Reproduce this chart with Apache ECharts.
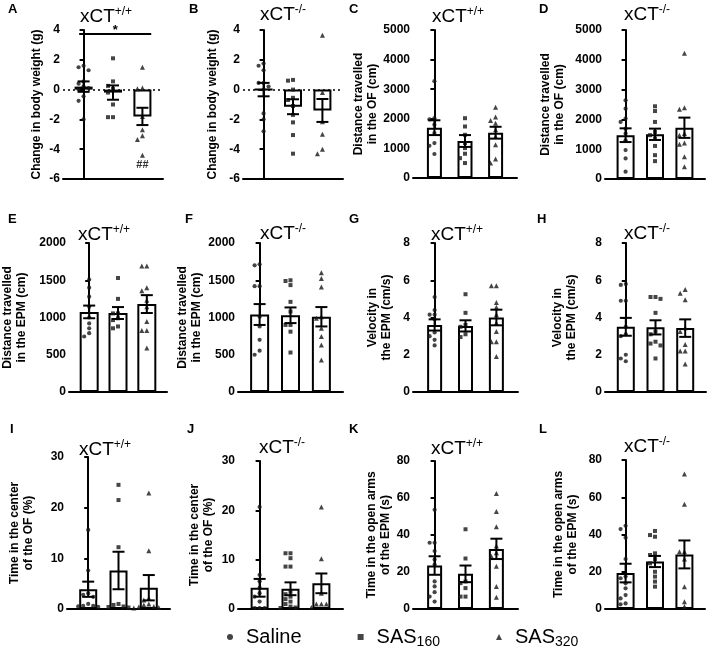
<!DOCTYPE html>
<html><head><meta charset="utf-8">
<script src="https://cdn.jsdelivr.net/npm/echarts@6/dist/echarts.min.js"></script>
<style>html,body{margin:0;padding:0;background:#fff}#c{width:708px;height:656px}</style>
</head><body><div id="c"></div>
<script>
const groups = ['Saline', 'SAS160', 'SAS320'];
const genoWT = '+/+', genoKO = '-/-';

// Panel A
const meanA = [0.2, -0.2, -1.8], semA = [0.35, 0.48, 0.58];
const ptsA = [[1.6, 1.5, 1.3, 0.55, 0.4, 0.2, 0.1, 0.0, -0.45, -0.75, -2.0],
              [2.1, 0.55, 0.25, 0.05, -0.2, -1.0, -1.85, -1.85],
              [1.5, 0.1, 0.05, -1.8, -2.7, -3.1, -3.35, -4.4]];
// Panel B
const meanB = [0.0, -1.15, -1.4], semB = [0.45, 0.5, 0.77];
const ptsB = [[1.75, 1.6, 1.3, 0.45, 0.45, 0.2, 0.0, -1.6, -2.0, -2.8],
              [0.6, 0.65, 0.0, -0.55, -0.7, -1.1, -1.7, -2.2, -3.05, -4.3],
              [3.65, -0.2, -2.15, -3.0, -4.0, -4.3]];
// Panel C
const meanC = [1700, 1250, 1530], semC = [250, 200, 200];
const ptsC = [[3270, 2020, 1980, 1800, 1520, 1180, 1090, 810],
              [2020, 1740, 1460, 1180, 1010, 820, 670, 505],
              [2390, 2060, 1940, 1850, 1630, 1400, 1120, 640, 505]];
// Panel D
const meanD = [1470, 1500, 1720], semD = [230, 190, 340];
const ptsD = [[2640, 2360, 2030, 1915, 1690, 1525, 1300, 970, 690, 245],
              [2440, 2280, 1915, 1580, 1470, 1360, 1110, 800, 600],
              [4220, 2390, 2340, 1525, 1470, 1210, 1170, 750, 410]];
// Panel E
const meanE = [1075, 1060, 1180], semE = [85, 80, 120];
const ptsE = [[1510, 1400, 1280, 1145, 1000, 920, 855, 790, 745],
              [1530, 1250, 1055, 1055, 990, 965, 880, 855],
              [1690, 1690, 1400, 1360, 1230, 1145, 945, 825, 825, 590]];
// Panel F
const meanF = [1040, 1030, 1010], semF = [140, 105, 130];
const ptsF = [[1700, 1715, 1420, 1420, 1010, 880, 700, 555, 500],
              [1490, 1500, 1435, 1210, 1080, 900, 900, 810, 530],
              [1600, 1525, 1410, 1010, 990, 855, 745, 630, 430]];
// Panel G
const meanG = [3.6, 3.55, 4.0], semG = [0.3, 0.3, 0.42];
const ptsG = [[5.1, 4.4, 4.15, 4.15, 3.9, 3.2, 3.0, 2.8, 2.5],
              [5.25, 4.25, 3.6, 3.5, 3.1, 2.95],
              [5.7, 5.7, 4.8, 4.55, 4.15, 3.7, 3.25, 2.7, 2.7, 1.9]];
// Panel H
const meanH = [3.5, 3.47, 3.43], semH = [0.48, 0.38, 0.47];
const ptsH = [[5.75, 5.8, 4.9, 4.9, 3.5, 3.1, 3.0, 2.0, 1.8, 1.65],
              [5.1, 5.1, 5.0, 4.25, 3.25, 3.1, 2.7, 2.6, 2.5, 1.8],
              [5.5, 5.3, 4.95, 3.45, 3.25, 2.55, 2.2, 2.2, 1.5]];
// Panel I
const meanI = [3.9, 7.6, 4.2], semI = [1.5, 3.7, 2.5];
const ptsI = [[15.6, 7.6, 3.1, 2.8, 2.4, 1.0, 0.6, 0.6, 0.5, 0.4],
              [24.5, 21.5, 12.2, 1.0, 0.8, 0.5, 0.4, 0.3],
              [22.9, 11.5, 2.1, 1.8, 1.0, 0.8, 0.5, 0.4, 0.3, 0.2]];
// Panel J
const meanJ = [4.3, 4.1, 5.2], semJ = [1.8, 1.3, 2.0];
const ptsJ = [[20.7, 6.9, 5.6, 4.3, 3.2, 2.5, 1.5, 0.2, 0.2, 0.2],
              [11.3, 11.3, 10.3, 8.6, 8.6, 3.5, 3.0, 2.5, 2.0, 1.5, 1.0, 0.5, 0.3, 0.2],
              [20.7, 10.2, 3.2, 1.0, 1.0, 1.0, 0.3]];
// Panel K
const meanK = [23.5, 19, 32.5], semK = [5, 4.5, 5.5];
const ptsK = [[53.6, 35.8, 35.8, 31.3, 26.7, 24, 14.9, 12.2, 9.1, 6.7, 4],
              [43.1, 27.3, 14.9, 14, 11.3, 6.7, 6.7],
              [62.5, 52.7, 44.4, 34, 30.4, 28.5, 23.1, 12.2, 6.4]];
// Panel L
const meanL = [19.3, 25.5, 29.3], semL = [5, 3, 7.5];
const ptsL = [[44.7, 42.9, 38.3, 26.8, 17.4, 16.5, 13.8, 11.1, 7.5, 5.7, 3, 2.5],
              [41.9, 39.7, 38.8, 29.9, 29, 26.8, 24.5, 20, 17.4, 14.7, 12],
              [72.5, 56.2, 30.8, 30.8, 26.8, 12, 3.9, 1.3]];

// Axis scales and names
const yNames = {
  A: 'Change in body weight (g)', B: 'Change in body weight (g)',
  C: 'Distance travelled\nin the OF (cm)', D: 'Distance travelled\nin the OF (cm)',
  E: 'Distance travelled\nin the EPM (cm)', F: 'Distance travelled\nin the EPM (cm)',
  G: 'Velocity in\nthe EPM (cm/s)', H: 'Velocity in\nthe EPM (cm/s)',
  I: 'Time in the center\nof the OF (%)', J: 'Time in the center\nof the OF (%)',
  K: 'Time in the open arms\nof the EPM (s)', L: 'Time in the open arms\nof the EPM (s)'
};
const yScales = {
  A: [-6, 4, 2], B: [-6, 4, 2], C: [0, 5000, 1000], D: [0, 5000, 1000],
  E: [0, 2000, 500], F: [0, 2000, 500], G: [0, 8, 2], H: [0, 8, 2],
  I: [0, 30, 10], J: [0, 30, 10], K: [0, 80, 20], L: [0, 80, 20]
};
// Significance annotations in panel A
const sigBarA = { from: -0.15, to: 2.3, y: 3.73, text: '*' };
const sigHashA = { x: 2, y: -5.05, text: '##' };

const data = {
  A: [meanA, semA, ptsA, genoWT], B: [meanB, semB, ptsB, genoKO],
  C: [meanC, semC, ptsC, genoWT], D: [meanD, semD, ptsD, genoKO],
  E: [meanE, semE, ptsE, genoWT], F: [meanF, semF, ptsF, genoKO],
  G: [meanG, semG, ptsG, genoWT], H: [meanH, semH, ptsH, genoKO],
  I: [meanI, semI, ptsI, genoWT], J: [meanJ, semJ, ptsJ, genoKO],
  K: [meanK, semK, ptsK, genoWT], L: [meanL, semL, ptsL, genoKO]
};

// Layout (pixels)
const layout = {
  A: { l: 63,  t: 30,  w: 100, h: 149, bw: 18, gap: 19, letter: [3, -2],   title: [101, 1] },
  B: { l: 243, t: 30,  w: 100, h: 149, bw: 18, gap: 23, letter: [184, -2], title: [278, -1] },
  C: { l: 413, t: 30,  w: 104, h: 148, bw: 15, gap: 26, letter: [344, -2], title: [453, 1] },
  D: { l: 605, t: 30,  w: 100, h: 149, bw: 18, gap: 38, letter: [534, -2], title: [642, -1] },
  E: { l: 67,  t: 243, w: 100, h: 149, bw: 19, gap: 40, letter: [3, 208],  title: [99, 219] },
  F: { l: 238, t: 243, w: 105, h: 149, bw: 19, gap: 34, letter: [180, 208], title: [278, 218] },
  G: { l: 413, t: 243, w: 105, h: 149, bw: 15, gap: 19, letter: [344, 208], title: [452, 219] },
  H: { l: 605, t: 243, w: 101, h: 149, bw: 18, gap: 26, letter: [532, 208], title: [642, 218] },
  I: { l: 67,  t: 457, w: 103, h: 152, bw: 18, gap: 31, letter: [5, 418],  title: [100, 434] },
  J: { l: 238, t: 461, w: 105, h: 148, bw: 18, gap: 22, letter: [182, 418], title: [277, 432] },
  K: { l: 413, t: 461, w: 105, h: 148, bw: 15, gap: 17, letter: [344, 418], title: [452, 433] },
  L: { l: 605, t: 460, w: 100, h: 149, bw: 18, gap: 25, letter: [534, 418], title: [642, 431] }
};

const FONT = 'Liberation Sans, Arial, sans-serif';
const INK = '#000';
const DOT = '#161616';
const symbols = ['circle', 'rect', 'triangle'];
const symSizes = [4.2, 4, 5];

// simple beeswarm: spread points that would overlap vertically
function swarm(vals, ppu) {
  const order = vals.map((v, i) => i).sort((a, b) => vals[b] - vals[a]);
  const placed = [], out = new Array(vals.length).fill(0);
  const cands = [0, -5, 5, -10, 10, -15, 15, -20, 20];
  order.forEach(i => {
    const y = vals[i] * ppu;
    let dx = 0;
    for (const c of cands) {
      if (placed.every(p => Math.hypot(p[0] - c, p[1] - y) >= 4.6)) { dx = c; break; }
    }
    placed.push([dx, y]);
    out[i] = dx;
  });
  return out;
}

const grids = [], xAxes = [], yAxes = [], series = [], titles = [];
Object.keys(layout).forEach((k, gi) => {
  const L = layout[k];
  const [mean, sem, pts, geno] = data[k];
  const [ymin, ymax, ystep] = yScales[k];
  grids.push({ left: L.l, top: L.t, width: L.w, height: L.h, containLabel: false });
  xAxes.push({
    gridIndex: gi, type: 'value', min: -0.7, max: 2.7,
    axisLine: { show: true, onZero: false, lineStyle: { color: INK, width: 2 } },
    axisTick: { show: false }, axisLabel: { show: false }, splitLine: { show: false }
  });
  yAxes.push({
    gridIndex: gi, type: 'value', min: ymin, max: ymax, interval: ystep,
    name: yNames[k], nameLocation: 'middle', nameGap: L.gap,
    nameTextStyle: { fontFamily: FONT, fontWeight: 'bold', fontSize: 12, color: INK, lineHeight: 14 },
    axisLine: { show: true, lineStyle: { color: INK, width: 2 } },
    axisTick: { show: true, length: 4, lineStyle: { color: INK, width: 2 } },
    axisLabel: { fontFamily: FONT, fontWeight: 'bold', fontSize: 12, color: INK, margin: 3,
                 formatter: v => String(v) },
    splitLine: { show: false }
  });
  const bar = {
    type: 'bar', xAxisIndex: gi, yAxisIndex: gi, barWidth: L.bw, z: 2,
    data: mean.map((m, i) => [i, m]),
    itemStyle: { color: '#fff', borderColor: INK, borderWidth: 2 },
    silent: true
  };
  if (ymin < 0) {
    const mlData = [{ yAxis: 0, lineStyle: { type: [2, 3], color: INK, width: 1.5 } }];
    if (k === 'A') {
      mlData.push([
        { coord: [sigBarA.from, sigBarA.y], lineStyle: { type: 'solid', color: INK, width: 2 },
          label: { show: true, formatter: sigBarA.text, position: 'insideMiddleTop', distance: -3,
                   fontFamily: FONT, fontWeight: 'bold', fontSize: 13, color: INK } },
        { coord: [sigBarA.to, sigBarA.y] }
      ]);
      bar.markPoint = {
        symbol: 'circle', symbolSize: 0, silent: true,
        data: [{ coord: [sigHashA.x, sigHashA.y] }],
        label: { show: true, formatter: sigHashA.text, position: 'inside', fontFamily: FONT,
                 fontSize: 11, fontWeight: 'bold', color: '#333' }
      };
    }
    bar.markLine = { silent: true, symbol: ['none', 'none'], label: { show: false }, data: mlData, z: 3 };
  }
  series.push(bar);
  const ppu = L.h / (ymax - ymin);
  pts.forEach((vals, g) => {
    const off = swarm(vals, ppu);
    series.push({
      type: 'scatter', name: groups[g], xAxisIndex: gi, yAxisIndex: gi, z: 3,
      symbol: symbols[g], symbolSize: symSizes[g],
      itemStyle: { color: DOT },
      data: vals.map((v, i) => ({ value: [g, v], symbolOffset: [off[i], 0] })),
      silent: true
    });
  });
  series.push({
    type: 'custom', xAxisIndex: gi, yAxisIndex: gi, z: 4, silent: true,
    data: mean.map((m, i) => [i, m, sem[i]]),
    renderItem: (params, api) => {
      const x = api.value(0), m = api.value(1), s = api.value(2);
      const a = api.coord([x, m + s]), b = api.coord([x, m - s]);
      const hw = 6, st = { stroke: INK, lineWidth: 2 };
      return { type: 'group', children: [
        { type: 'line', shape: { x1: a[0], y1: a[1], x2: b[0], y2: b[1] }, style: st },
        { type: 'line', shape: { x1: a[0] - hw, y1: a[1], x2: a[0] + hw, y2: a[1] }, style: st },
        { type: 'line', shape: { x1: b[0] - hw, y1: b[1], x2: b[0] + hw, y2: b[1] }, style: st }
      ]};
    }
  });
  titles.push({
    text: k, left: L.letter[0], top: L.letter[1],
    textStyle: { fontFamily: FONT, fontWeight: 'bold', fontSize: 13, color: INK }
  });
  titles.push({
    text: 'xCT{s|' + geno + '}', left: L.title[0], top: L.title[1], textAlign: 'center',
    textStyle: { fontFamily: FONT, fontWeight: 'normal', fontSize: 19, color: INK, lineHeight: 22,
                 rich: { s: { fontFamily: FONT, fontSize: 12, color: INK, verticalAlign: 'top', lineHeight: 13 } } }
  });
});

const chart = echarts.init(document.getElementById('c'), null, { renderer: 'canvas' });
chart.setOption({
  animation: false,
  backgroundColor: '#fff',
  title: titles,
  grid: grids,
  xAxis: xAxes,
  yAxis: yAxes,
  legend: {
    left: 222, top: 620, itemGap: 56, itemWidth: 6, itemHeight: 6,
    data: [{ name: 'Saline', icon: 'circle' }, { name: 'SAS160', icon: 'rect' }, { name: 'SAS320', icon: 'triangle' }],
    formatter: n => n === 'Saline' ? n : 'SAS{sub|' + n.slice(3) + '}',
    textStyle: { fontFamily: FONT, fontSize: 20, color: INK, padding: [0, 0, 0, 8], lineHeight: 24,
                 rich: { sub: { fontFamily: FONT, fontSize: 14, color: INK, verticalAlign: 'bottom', lineHeight: 14 } } }
  },
  series: series
});
</script></body></html>
